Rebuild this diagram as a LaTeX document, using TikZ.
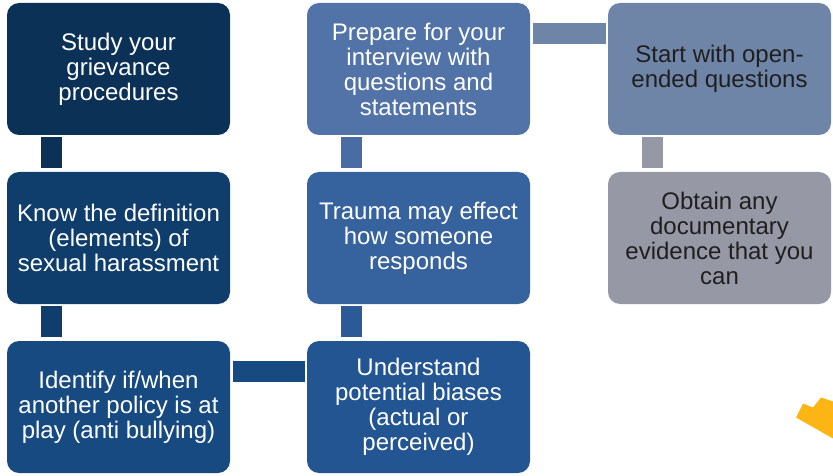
\documentclass[tikz,border=0pt]{standalone}
\usepackage{fontspec}
\setmainfont{Liberation Sans}
\definecolor{cA}{HTML}{0C3157}
\definecolor{cB}{HTML}{0F3E6C}
\definecolor{cC}{HTML}{164A80}
\definecolor{cD}{HTML}{235592}
\definecolor{cE}{HTML}{36629D}
\definecolor{cF}{HTML}{5273A7}
\definecolor{cG}{HTML}{6F85A7}
\definecolor{cH}{HTML}{9698A6}
\definecolor{cBarE}{HTML}{4A6CA4}
\definecolor{cBarD}{HTML}{2B5A97}
\definecolor{gold}{HTML}{FDB515}
\tikzset{
  box/.style={rounded corners=12pt, minimum width=223pt, minimum height=132pt,
    inner sep=0pt, align=center, font=\fontsize{24}{25}\selectfont, text=white},
  darktext/.style={text=black!88},
  bar/.style={line width=21pt, line cap=butt}
}
\begin{document}
\begin{tikzpicture}[x=1pt,y=-1pt]
\useasboundingbox (0,0) rectangle (833,476);
% boxes
\node[box, fill=cA] (a) at (118.5,69) {Study your\\grievance\\procedures};
\node[box, fill=cB] (b) at (118.5,238) {Know the definition\\(elements) of\\sexual harassment};
\node[box, fill=cC] (c) at (118.5,407) {Identify if/when\\another policy is at\\play (anti bullying)};
\node[box, fill=cD] (d) at (418.5,407) {Understand\\potential biases\\(actual or\\perceived)};
\node[box, fill=cE] (e) at (418.5,238) {Trauma may effect\\how someone\\responds};
\node[box, fill=cF] (f) at (418.5,69) {Prepare for your\\interview with\\questions and\\statements};
\node[box, fill=cG, darktext] (g) at (719.5,69) {Start with open-\\ended questions};
\node[box, fill=cH, darktext] (h) at (719.5,238) {Obtain any\\documentary\\evidence that you\\can};
% connectors
\draw[bar, cA] ([xshift=44.5pt,yshift=-2pt]a.south west) -- ([xshift=44.5pt,yshift=4pt]b.north west);
\draw[bar, cB] ([xshift=44.5pt,yshift=-2pt]b.south west) -- ([xshift=44.5pt,yshift=4pt]c.north west);
\draw[bar, cC] ([xshift=3pt,yshift=-30.5pt]c.north east) -- ([xshift=-2pt,yshift=-30.5pt]d.north west);
\draw[bar, cBarD] ([xshift=44.5pt,yshift=4pt]d.north west) -- ([xshift=44.5pt,yshift=-2pt]e.south west);
\draw[bar, cBarE] ([xshift=44.5pt,yshift=4pt]e.north west) -- ([xshift=44.5pt,yshift=-2pt]f.south west);
\draw[bar, cG] ([xshift=3pt,yshift=-30.5pt]f.north east) -- ([xshift=-2pt,yshift=-30.5pt]g.north west);
\draw[bar, cH] ([xshift=44.5pt,yshift=-2pt]g.south west) -- ([xshift=44.5pt,yshift=4pt]h.north west);
% partial gold shape
\fill[gold] (796,417.5) -- (803,403.5) -- (813,407.5) -- (821,397.5) -- (833,401.5) -- (833,438.5) -- cycle;
\end{tikzpicture}
\end{document}
